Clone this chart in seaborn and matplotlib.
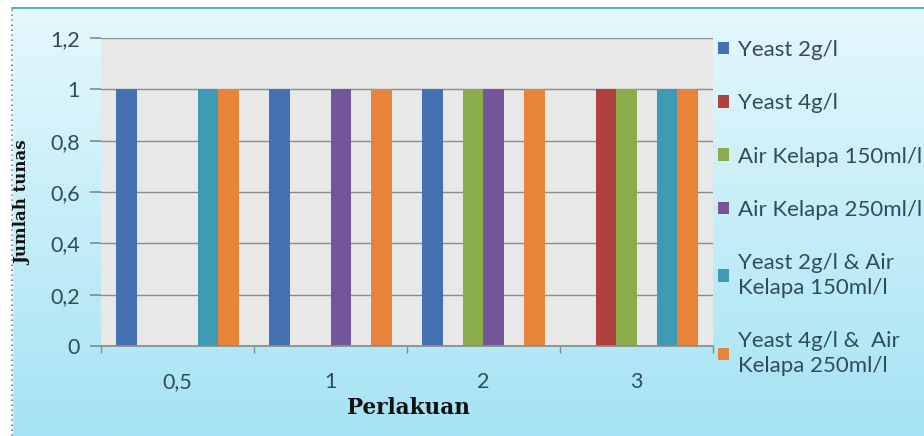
import numpy as np
import pandas as pd
import matplotlib
matplotlib.use("Agg")
import matplotlib.pyplot as plt
import seaborn as sns
from matplotlib.patches import Patch, Rectangle
from matplotlib.lines import Line2D
from matplotlib.colors import LinearSegmentedColormap

categories = ["0,5", "1", "2", "3"]
series_names = ["Yeast 2g/l", "Yeast 4g/l", "Air Kelapa 150ml/l", "Air Kelapa 250ml/l",
                "Yeast 2g/l & Air\nKelapa 150ml/l", "Yeast 4g/l &  Air\nKelapa 250ml/l"]
yeast2 = [1, 1, 1, 0]
yeast4 = [0, 0, 0, 1]
ak150 = [0, 0, 1, 1]
ak250 = [0, 1, 1, 0]
y2_ak150 = [1, 0, 0, 1]
y4_ak250 = [1, 1, 1, 1]
y_ticks = [0, 0.2, 0.4, 0.6, 0.8, 1.0, 1.2]
y_tick_labels = ["0", "0,2", "0,4", "0,6", "0,8", "1", "1,2"]

colors = ["#4472b0", "#b0413e", "#8aac4a", "#73559a", "#3f9bb3", "#e8843a"]

all_vals = [yeast2, yeast4, ak150, ak250, y2_ak150, y4_ak250]
rows = []
for name, vals in zip(series_names, all_vals):
    for c, v in zip(categories, vals):
        rows.append({"Perlakuan": c, "Seri": name, "Jumlah": v})
df = pd.DataFrame(rows)

sns.set_theme(style="white")
plt.rcParams["font.family"] = ["Lato", "DejaVu Sans"]

fig = plt.figure(figsize=(9.24, 4.36), dpi=100)

# background gradient
bg = fig.add_axes([0, 0, 1, 1], zorder=-10)
grad = np.linspace(0, 1, 256).reshape(-1, 1)
cmap = LinearSegmentedColormap.from_list("bg", ["#e6f8fc", "#a6e3f4"])
bg.imshow(grad, aspect="auto", cmap=cmap, extent=[0, 1, 0, 1], origin="upper")
bg.set_xlim(0, 1); bg.set_ylim(0, 1)
bg.axis("off")
bg.add_patch(Rectangle((0, 1 - 8 / 436), 1, 8 / 436, color="white", zorder=2))
bg.add_patch(Rectangle((0, 0), 12 / 924, 1, color="white", zorder=2))
bg.add_line(Line2D([12 / 924, 1], [1 - 8 / 436] * 2, color="#5aaebf", lw=1.5, zorder=3))
bg.add_line(Line2D([12 / 924] * 2, [0, 1 - 8 / 436], color="#6a8a90", lw=1.2, ls=(0, (1, 2)), zorder=3))

ax = fig.add_axes([101 / 924, 1 - 346 / 436, (713 - 101) / 924, (346 - 38) / 436])
ax.set_facecolor("#e8e8e8")
sns.barplot(data=df, x="Perlakuan", y="Jumlah", hue="Seri", order=categories,
            hue_order=series_names, palette=colors, width=0.8, ax=ax,
            saturation=1, legend=False, errorbar=None, edgecolor="none")
ax.set_ylim(0, 1.2)
ax.set_xlim(-0.5, 3.5)
ax.set_yticks(y_ticks)
ax.set_yticklabels(y_tick_labels)
ax.yaxis.grid(True, color="#8c8c8c", lw=1)
ax.set_axisbelow(True)
for s in ["top", "right", "left"]:
    ax.spines[s].set_visible(False)
ax.spines["bottom"].set_color("#8c8c8c")
ax.tick_params(axis="y", length=8, color="#8c8c8c", labelsize=15.5, labelcolor="#2f4d58", pad=7, left=True)
ax.tick_params(axis="x", length=0, labelsize=15.5, labelcolor="#2f4d58", pad=19)
ax.set_xticks([-0.5, 0.5, 1.5, 2.5, 3.5], minor=True)
ax.tick_params(axis="x", which="minor", length=5, color="#8c8c8c", bottom=True)
ax.set_xlabel("")
ax.set_ylabel("")

fig.text(408 / 924, 1 - 408 / 436, "Perlakuan", family="DejaVu Serif", weight="bold",
         fontsize=15.5, ha="center", va="center", color="#111111")
fig.text(23 / 924, 1 - 203 / 436, "Jumlah tunas", family="DejaVu Serif", weight="bold",
         fontsize=12, ha="center", va="center", rotation=90, color="#111111")

handles = [Patch(facecolor=c, edgecolor="none") for c in colors]
leg = fig.legend(handles, series_names, loc="upper left", bbox_to_anchor=(709 / 924, 1 - 31 / 436),
                 frameon=False, fontsize=16, labelspacing=1.5, handlelength=0.5, handleheight=0.5,
                 handletextpad=0.4, borderaxespad=0)
for t in leg.get_texts():
    t.set_color("#2f4d58")
    t.set_linespacing(1.3)

fig.savefig("out.png", dpi=100)
